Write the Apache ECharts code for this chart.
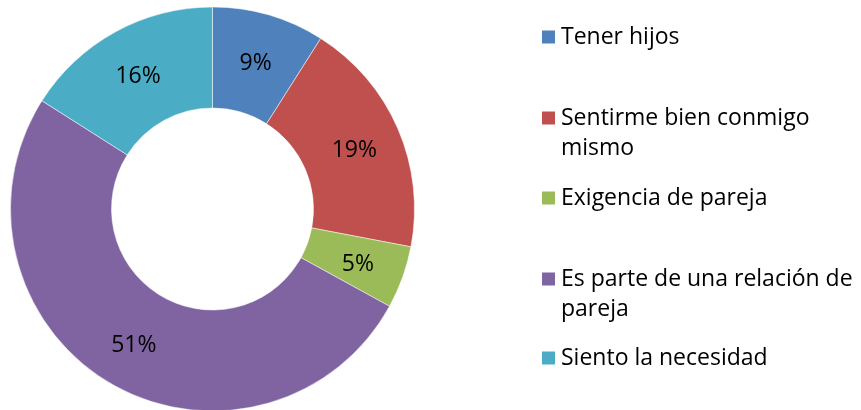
<!DOCTYPE html>
<html>
<head>
<meta charset="utf-8">
<script src="https://cdn.jsdelivr.net/npm/echarts@6/dist/echarts.min.js"></script>
<style>
  html, body { margin: 0; padding: 0; background: #fff; }
  #chart { width: 861px; height: 410px; }
</style>
</head>
<body>
<div id="chart"></div>
<script>
const categories = [
  'Tener hijos',
  'Sentirme bien conmigo\nmismo',
  'Exigencia de pareja',
  'Es parte de una relación de\npareja',
  'Siento la necesidad',
];
const percents = [9, 19, 5, 51, 16];
const colors = ['#4f81bd', '#c0504d', '#9bbb59', '#8064a2', '#4bacc6'];
// vertical centre of each legend square
const legendCenters = [36, 117, 197, 278, 357];

const fontFamily = "'Open Sans', 'Noto Sans', sans-serif";
const fontSize = 23;
const lineHeight = 30;

const chart = echarts.init(document.getElementById('chart'), null, { renderer: 'canvas' });

// one legend per entry so every square sits where Excel put it;
// a blank first line keeps a wrapped label's first line level with its square
const legends = categories.map((name, i) => {
  const twoLines = name.includes('\n');
  return {
    orient: 'vertical',
    left: 540,
    top: legendCenters[i] + 1 - (twoLines ? lineHeight * 1.5 : lineHeight / 2),
    padding: 0,
    itemWidth: 15,
    itemHeight: 15,
    itemGap: 0,
    icon: 'rect',
    selectedMode: false,
    data: [name],
    formatter: (n) => (n.includes('\n') ? '\n' + n : n),
    textStyle: {
      color: '#000',
      fontFamily,
      fontSize,
      lineHeight,
    },
  };
});

chart.setOption({
  animation: false,
  color: colors,
  legend: legends,
  series: [
    {
      type: 'pie',
      center: [212.5, 209],
      radius: [101, 202],
      startAngle: 90,
      clockwise: true,
      avoidLabelOverlap: false,
      itemStyle: { borderColor: '#fff', borderWidth: 0.5 },
      label: {
        position: 'inside',
        formatter: '{c}%',
        color: '#000',
        fontFamily,
        fontSize,
        offset: [0, 3],
      },
      labelLine: { show: false },
      data: categories.map((name, i) => ({ name, value: percents[i] })),
    },
  ],
});
</script>
</body>
</html>
